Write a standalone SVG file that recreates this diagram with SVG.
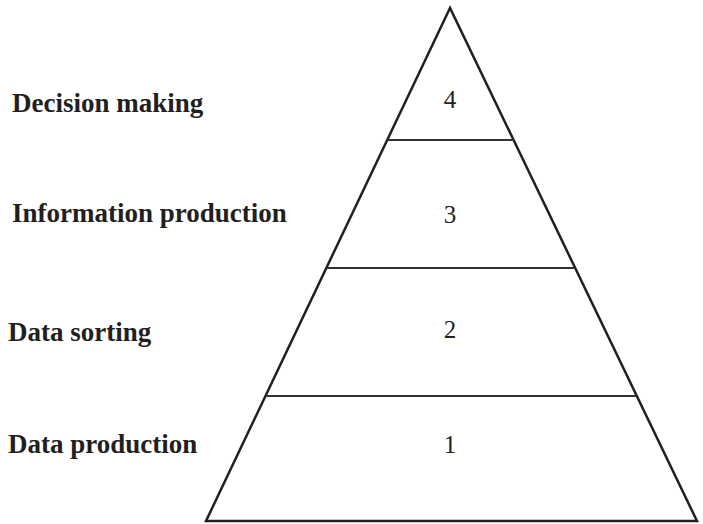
<svg xmlns="http://www.w3.org/2000/svg" width="703" height="524" viewBox="0 0 703 524">
<style>
.lbl{font-family:"Liberation Serif",serif;font-weight:bold;font-size:27px;fill:#231f20}
.num{font-family:"Liberation Serif",serif;font-size:25px;fill:#231f20;text-anchor:middle}
.div{stroke:#333;stroke-width:1.8}
</style>
<rect width="703" height="524" fill="#fff"/>
<g id="pyramid">
<polygon points="450,8 206,521 697,521" fill="none" stroke="#231f20" stroke-width="2.5" stroke-linejoin="miter"/>
</g>
<g id="connectors">
<line class="div" x1="388" y1="140" x2="514" y2="140"/>
<line class="div" x1="327" y1="268" x2="575" y2="268"/>
<line class="div" x1="266" y1="396" x2="636" y2="396"/>
</g>
<g id="level4"><text class="lbl" x="12" y="112">Decision making</text><text class="num" x="450" y="108">4</text></g>
<g id="level3"><text class="lbl" x="12" y="222">Information production</text><text class="num" x="450" y="223">3</text></g>
<g id="level2"><text class="lbl" x="8" y="341">Data sorting</text><text class="num" x="450" y="338">2</text></g>
<g id="level1"><text class="lbl" x="8" y="453">Data production</text><text class="num" x="450" y="453">1</text></g>
</svg>
